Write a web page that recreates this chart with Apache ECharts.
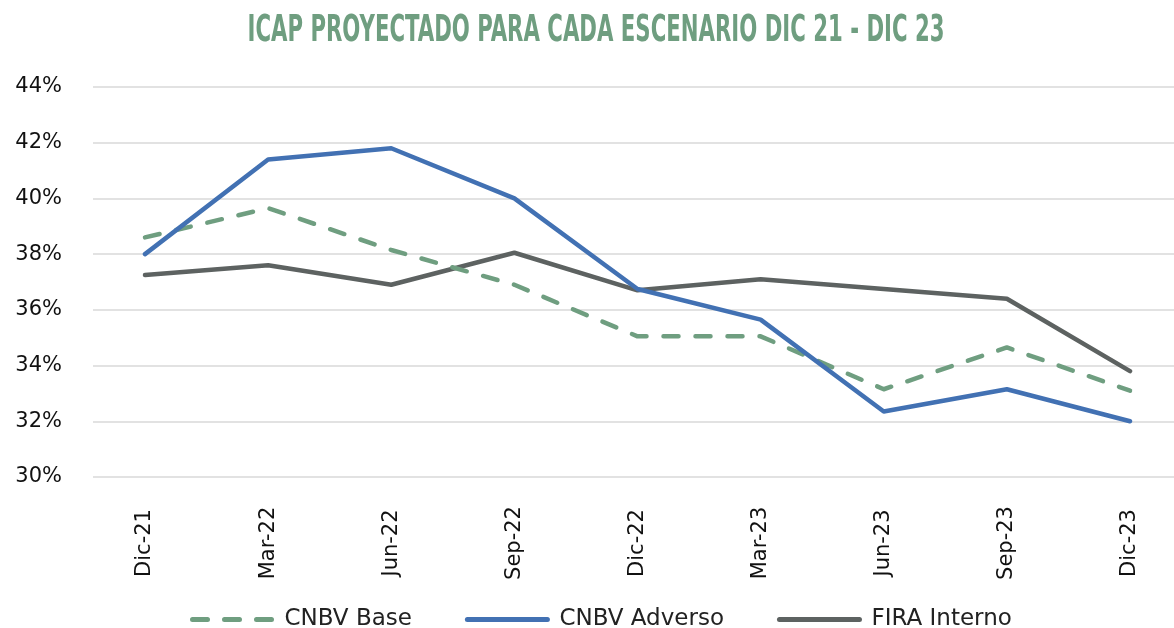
<!DOCTYPE html>
<html>
<head>
<meta charset="utf-8">
<script src="https://cdn.jsdelivr.net/npm/echarts@6/dist/echarts.min.js"></script>
<style>
html,body{margin:0;padding:0;background:#fff;}
#chart{width:1174px;height:628px;}
</style>
</head>
<body>
<div id="chart"></div>
<script>
const titleText = 'ICAP PROYECTADO PARA CADA ESCENARIO DIC 21 - DIC 23';
const categories = ['Dic-21','Mar-22','Jun-22','Sep-22','Dic-22','Mar-23','Jun-23','Sep-23','Dic-23'];
const cnbvBase = [38.6, 39.65, 38.15, 36.9, 35.05, 35.05, 33.15, 34.65, 33.1];
const cnbvAdverso = [38.0, 41.4, 41.8, 40.0, 36.75, 35.65, 32.35, 33.15, 32.0];
const firaInterno = [37.25, 37.6, 36.9, 38.05, 36.7, 37.1, 36.75, 36.4, 33.8];
const yTicks = {min: 30, max: 44, interval: 2};

const titleFont = 'bold 38px "Liberation Sans Narrow", "DejaVu Sans Condensed", sans-serif';
const cv = document.createElement('canvas').getContext('2d');
cv.font = titleFont;
const tw = cv.measureText(titleText).width;
const sx = 697 / tw;

const chart = echarts.init(document.getElementById('chart'));
const labelFont = '"DejaVu Sans", sans-serif';
const TOP = 87, BOTTOM = 151;
chart.setOption({
  animation: false,
  backgroundColor: '#ffffff',
  graphic: [{
    type: 'text',
    x: 596, y: 31,
    scaleX: sx,
    style: {
      text: titleText,
      font: titleFont,
      fill: '#6f9e80',
      align: 'center',
      verticalAlign: 'middle'
    }
  }],
  grid: [
    {left: 93, right: 0, top: TOP, bottom: BOTTOM, containLabel: false},
    {left: 145, right: 44, top: TOP, bottom: BOTTOM, containLabel: false}
  ],
  legend: {
    bottom: -8,
    left: 185,
    itemWidth: 80,
    itemHeight: 14,
    itemGap: 53,
    itemStyle: {opacity: 0},
    lineStyle: {width: 5, cap: 'round'},
    textStyle: {fontFamily: labelFont, fontSize: 23, color: '#222', padding: [0, 0, 0, 7]},
    data: ['CNBV Base', 'CNBV Adverso', 'FIRA Interno']
  },
  xAxis: [
    {
      gridIndex: 0, type: 'value', min: 0, max: 1, show: false
    },
    {
      gridIndex: 1,
      type: 'category',
      data: categories,
      boundaryGap: false,
      axisLine: {show: false},
      axisTick: {show: false},
      splitLine: {show: false},
      axisLabel: {
        rotate: 90,
        align: 'center',
        verticalAlign: 'middle',
        margin: 66,
        fontFamily: labelFont,
        fontSize: 21,
        color: '#111'
      }
    }
  ],
  yAxis: [
    {
      gridIndex: 0,
      type: 'value',
      min: yTicks.min, max: yTicks.max, interval: yTicks.interval,
      axisLine: {show: false},
      axisTick: {show: false},
      splitLine: {lineStyle: {color: '#d9d9d9', width: 1.5}},
      axisLabel: {
        formatter: '{value}%',
        margin: 31,
        fontFamily: labelFont,
        fontSize: 21,
        color: '#111'
      }
    },
    {
      gridIndex: 1,
      type: 'value',
      min: yTicks.min, max: yTicks.max, interval: yTicks.interval,
      show: false,
      splitLine: {show: false}
    }
  ],
  series: [
    {
      name: 'CNBV Base', type: 'line', data: cnbvBase, symbol: 'none',
      xAxisIndex: 1, yAxisIndex: 1,
      color: '#6f9e80',
      lineStyle: {width: 4.5, color: '#6f9e80', type: [15, 17], cap: 'round', join: 'round'},
      z: 3
    },
    {
      name: 'CNBV Adverso', type: 'line', data: cnbvAdverso, symbol: 'none',
      xAxisIndex: 1, yAxisIndex: 1,
      color: '#4271b3',
      lineStyle: {width: 4.5, color: '#4271b3', cap: 'round', join: 'round'},
      z: 4
    },
    {
      name: 'FIRA Interno', type: 'line', data: firaInterno, symbol: 'none',
      xAxisIndex: 1, yAxisIndex: 1,
      color: '#5d6261',
      lineStyle: {width: 4.5, color: '#5d6261', cap: 'round', join: 'round'},
      z: 2
    }
  ]
});
</script>
</body>
</html>
